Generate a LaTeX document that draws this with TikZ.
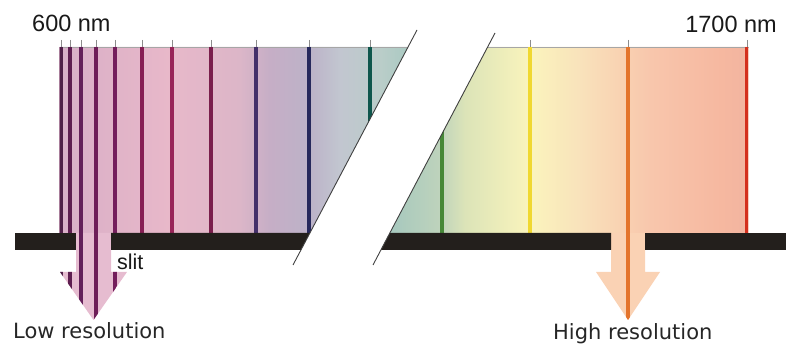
\documentclass[tikz,border=0pt]{standalone}
\usepackage{fontspec}
\setmainfont{Liberation Sans}
\newfontfamily\resfont{DejaVu Sans}
\usepackage{xcolor}
\usepackage{tikz}

% band colours, left and right of the cut
\definecolor{lowA}{HTML}{D8B0C8}
\definecolor{lowB}{HTML}{DEB2C8}
\definecolor{lowC}{HTML}{E8B8C9}
\definecolor{lowD}{HTML}{DCB6C8}
\definecolor{lowE}{HTML}{C6AEC6}
\definecolor{lowF}{HTML}{BCB2C8}
\definecolor{lowG}{HTML}{C2C6D0}
\definecolor{lowH}{HTML}{BACDC9}
\definecolor{lowI}{HTML}{AACAC2}
\definecolor{highA}{HTML}{A6C8BE}
\definecolor{highB}{HTML}{BED3BC}
\definecolor{highC}{HTML}{DCE4B8}
\definecolor{highD}{HTML}{FAF4BC}
\definecolor{highE}{HTML}{F9E2BB}
\definecolor{highF}{HTML}{F9D2B2}
\definecolor{highG}{HTML}{F8C6AC}
\definecolor{highH}{HTML}{F6B8A0}
\definecolor{highI}{HTML}{F2B4A0}

\pgfdeclarehorizontalshading{lowband}{100bp}{color(0bp)=(lowA); color(25bp)=(lowA);
  color(30.6bp)=(lowB); color(40.7bp)=(lowC); color(50.8bp)=(lowD); color(55.1bp)=(lowE);
  color(60.9bp)=(lowF); color(65.2bp)=(lowG); color(71bp)=(lowH); color(75bp)=(lowI); color(100bp)=(lowI)}
\pgfdeclarehorizontalshading{highband}{100bp}{color(0bp)=(highA); color(25bp)=(highA);
  color(32bp)=(highB); color(35.5bp)=(highC); color(44.6bp)=(highD); color(51.6bp)=(highE);
  color(57.2bp)=(highF); color(61.4bp)=(highG); color(71.2bp)=(highH); color(75bp)=(highI); color(100bp)=(highI)}

\begin{document}
\begin{tikzpicture}[x=1pt, y=-1pt,
  specline/.style={line width=3.2pt},
  tickmark/.style={draw=black!45, line width=0.6pt},
  cutline/.style={draw=black!75, line width=0.9pt}]
  \definecolor{barblack}{HTML}{231F1C}
  \definecolor{lowarrow}{HTML}{E6BCD0}
  \definecolor{higharrow}{HTML}{FAD2B4}
  \definecolor{s01}{HTML}{502048}
  \definecolor{s02}{HTML}{5E1E50}
  \definecolor{s03}{HTML}{64205A}
  \definecolor{s04}{HTML}{6E1E58}
  \definecolor{s05}{HTML}{741E5C}
  \definecolor{s06}{HTML}{861E54}
  \definecolor{s07}{HTML}{982458}
  \definecolor{s08}{HTML}{7A1E4C}
  \definecolor{s09}{HTML}{44306A}
  \definecolor{s10}{HTML}{26285C}
  \definecolor{s11}{HTML}{0E564C}
  \definecolor{s12}{HTML}{468838}
  \definecolor{s13}{HTML}{F0D830}
  \definecolor{s14}{HTML}{E4742C}
  \definecolor{s15}{HTML}{D4301E}
  \useasboundingbox (0,0) rectangle (792,344);

  % shaded bands
  \shade[shading=lowband] (59.5,47) -- (408,47) -- (309.9,233) -- (59.5,233) -- cycle;
  \shade[shading=highband] (487.6,47) -- (748.5,47) -- (748.5,233) -- (389.8,233) -- cycle;
  \draw[black!35, line width=0.5pt] (59.5,47) -- (408,47);
  \draw[black!35, line width=0.5pt] (487.6,47) -- (748.5,47);

  % arrows through the slits
  \fill[lowarrow] (76,233) -- (76,272) -- (60,272) -- (93.5,320) -- (127,272) -- (111,272) -- (111,233) -- cycle;
  \fill[higharrow] (611,233) -- (611,272) -- (596,272) -- (628,320) -- (660,272) -- (645,272) -- (645,233) -- cycle;

  % spectral lines
  \begin{scope}
    \clip (59.5,47) -- (408,47) -- (309.9,233) -- (59.5,233) -- cycle
      (76,233) -- (76,272) -- (60,272) -- (93.5,320) -- (127,272) -- (111,272) -- (111,233) -- cycle;
    \foreach \x/\c in {61/s01, 70/s02, 81/s03, 96/s04, 115/s05, 142/s06, 172/s07, 211/s08, 256/s09, 309/s10, 370/s11}
      \draw[specline, \c] (\x,47) -- (\x,320);
  \end{scope}
  \begin{scope}
    \clip (487.6,47) -- (748.5,47) -- (748.5,233) -- (389.8,233) -- cycle
      (611,233) -- (611,272) -- (596,272) -- (628,320) -- (660,272) -- (645,272) -- (645,233) -- cycle;
    \foreach \x/\c in {442/s12, 530/s13, 628/s14, 747/s15}
      \draw[specline, \c] (\x,47) -- (\x,320);
  \end{scope}
  \foreach \x in {61,70,81,96,115,142,172,211,256,309,370,530,628,747}
    \draw[tickmark] (\x,40) -- (\x,47);

  % slit plate
  \fill[barblack] (15,233) rectangle (76,250);
  \fill[barblack] (111,233) -- (309.9,233) -- (300.9,250) -- (111,250) -- cycle;
  \fill[barblack] (389.8,233) -- (611,233) -- (611,250) -- (380.9,250) -- cycle;
  \fill[barblack] (645,233) rectangle (786,250);

  % axis break
  \draw[cutline] (417,30) -- (293,265);
  \draw[cutline] (495,33) -- (373,265);

  \node[anchor=base west, inner sep=0pt, font=\fontsize{23.5}{26}\selectfont, text=black!90] (short) at (32,32) {600 nm};
  \node[anchor=base east, inner sep=0pt, font=\fontsize{23.5}{26}\selectfont, text=black!90] (long) at (777,33) {1700 nm};
  \node[anchor=base west, inner sep=0pt, font=\fontsize{21.5}{23}\selectfont, text=black!90] (slit) at (117,270) {slit};
  \node[anchor=base west, inner sep=0pt, font=\resfont\fontsize{21}{23}\selectfont, text=black!85] (lowres) at (13,339) {Low resolution};
  \node[anchor=base west, inner sep=0pt, font=\resfont\fontsize{21}{23}\selectfont, text=black!85] (highres) at (553,340) {High resolution};
\end{tikzpicture}
\end{document}
